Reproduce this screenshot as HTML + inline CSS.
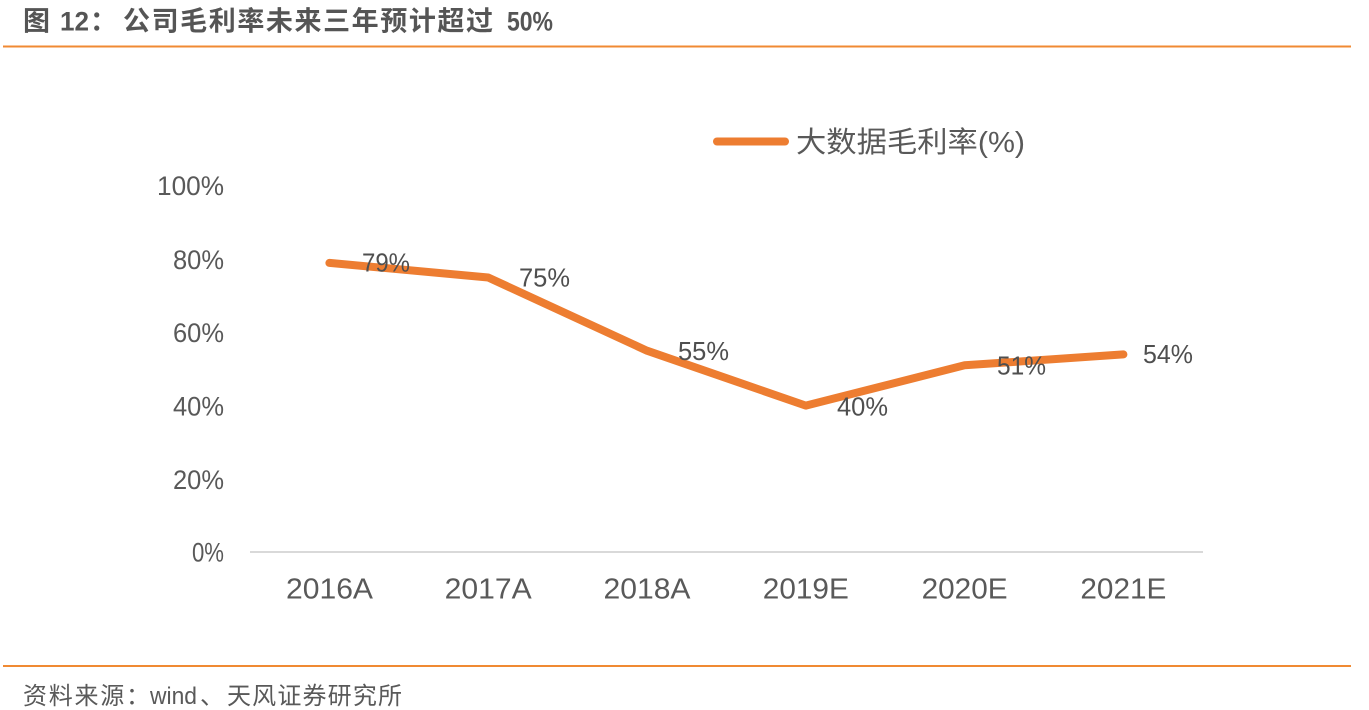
<!DOCTYPE html>
<html>
<head>
<meta charset="utf-8">
<style>
  html,body{margin:0;padding:0;background:#fff;}
  body{width:1369px;height:710px;overflow:hidden;}
  svg{display:block;}
  .cjk{font-family:"Liberation Sans","Noto Sans CJK SC",sans-serif;}
  .lat{font-family:"Liberation Sans",sans-serif;}
</style>
</head>
<body>
<svg width="1369" height="710" viewBox="0 0 1369 710" xmlns="http://www.w3.org/2000/svg">
  <!-- Title -->
  <g class="cjk" fill="#555555" font-weight="bold" font-size="27">
    <text x="23" y="30.5">图</text>
    <text x="60" y="30.5" class="lat" textLength="29" lengthAdjust="spacingAndGlyphs">12</text>
    <text x="90" y="30.5">：</text>
    <text x="123" y="30.5" textLength="370" lengthAdjust="spacing">公司毛利率未来三年预计超过</text>
    <text x="507" y="30.5" class="lat" textLength="46" lengthAdjust="spacingAndGlyphs">50%</text>
  </g>
  <rect x="3" y="45.5" width="1348" height="2" fill="#F08A33"/>

  <!-- Legend -->
  <line x1="717" y1="141.5" x2="785" y2="141.5" stroke="#ED7D31" stroke-width="8" stroke-linecap="round"/>
  <text x="796" y="152" class="cjk" font-size="29" fill="#595959" textLength="229" lengthAdjust="spacingAndGlyphs">大数据毛利率(%)</text>

  <!-- Y axis labels -->
  <g class="lat" font-size="27" fill="#595959" text-anchor="end">
    <text x="224" y="195" textLength="67" lengthAdjust="spacingAndGlyphs">100%</text>
    <text x="224" y="269" textLength="51" lengthAdjust="spacingAndGlyphs">80%</text>
    <text x="224" y="342" textLength="51" lengthAdjust="spacingAndGlyphs">60%</text>
    <text x="224" y="415.5" textLength="51" lengthAdjust="spacingAndGlyphs">40%</text>
    <text x="224" y="489" textLength="51" lengthAdjust="spacingAndGlyphs">20%</text>
    <text x="224" y="561.5" textLength="32" lengthAdjust="spacingAndGlyphs">0%</text>
  </g>

  <!-- Axis line -->
  <line x1="250" y1="552" x2="1203" y2="552" stroke="#D9D9D9" stroke-width="2"/>

  <!-- X labels -->
  <g class="lat" font-size="29" fill="#595959" text-anchor="middle">
    <text x="329.5" y="598.5" textLength="87" lengthAdjust="spacingAndGlyphs">2016A</text>
    <text x="488.2" y="598.5" textLength="87" lengthAdjust="spacingAndGlyphs">2017A</text>
    <text x="647" y="598.5" textLength="87" lengthAdjust="spacingAndGlyphs">2018A</text>
    <text x="805.8" y="598.5" textLength="86" lengthAdjust="spacingAndGlyphs">2019E</text>
    <text x="964.6" y="598.5" textLength="86" lengthAdjust="spacingAndGlyphs">2020E</text>
    <text x="1123.4" y="598.5" textLength="86" lengthAdjust="spacingAndGlyphs">2021E</text>
  </g>

  <!-- Series -->
  <polyline points="329.4,262.9 488.2,277.5 647,350.7 805.8,405.6 964.6,365.3 1123.4,354.4"
    fill="none" stroke="#ED7D31" stroke-width="8" stroke-linecap="round" stroke-linejoin="round"/>

  <!-- Data labels -->
  <g class="lat" font-size="26" fill="#4f4f4f">
    <text x="362" y="271.5" textLength="48" lengthAdjust="spacingAndGlyphs">79%</text>
    <text x="519" y="286.5" textLength="51" lengthAdjust="spacingAndGlyphs">75%</text>
    <text x="678" y="360" textLength="51" lengthAdjust="spacingAndGlyphs">55%</text>
    <text x="837" y="415.5" textLength="51" lengthAdjust="spacingAndGlyphs">40%</text>
    <text x="997" y="374.5" textLength="49" lengthAdjust="spacingAndGlyphs">51%</text>
    <text x="1143" y="363" textLength="50" lengthAdjust="spacingAndGlyphs">54%</text>
  </g>

  <!-- Bottom rule -->
  <rect x="3" y="665" width="1348" height="2" fill="#F08A33"/>

  <!-- Footer -->
  <g class="cjk" font-size="24" fill="#595959">
    <text x="23" y="704" textLength="127" lengthAdjust="spacing">资料来源：</text>
    <text x="150" y="704" class="lat" textLength="47" lengthAdjust="spacingAndGlyphs">wind</text>
    <text x="200" y="704">、</text>
    <text x="227" y="704" textLength="175" lengthAdjust="spacing">天风证券研究所</text>
  </g>
</svg>
</body>
</html>
